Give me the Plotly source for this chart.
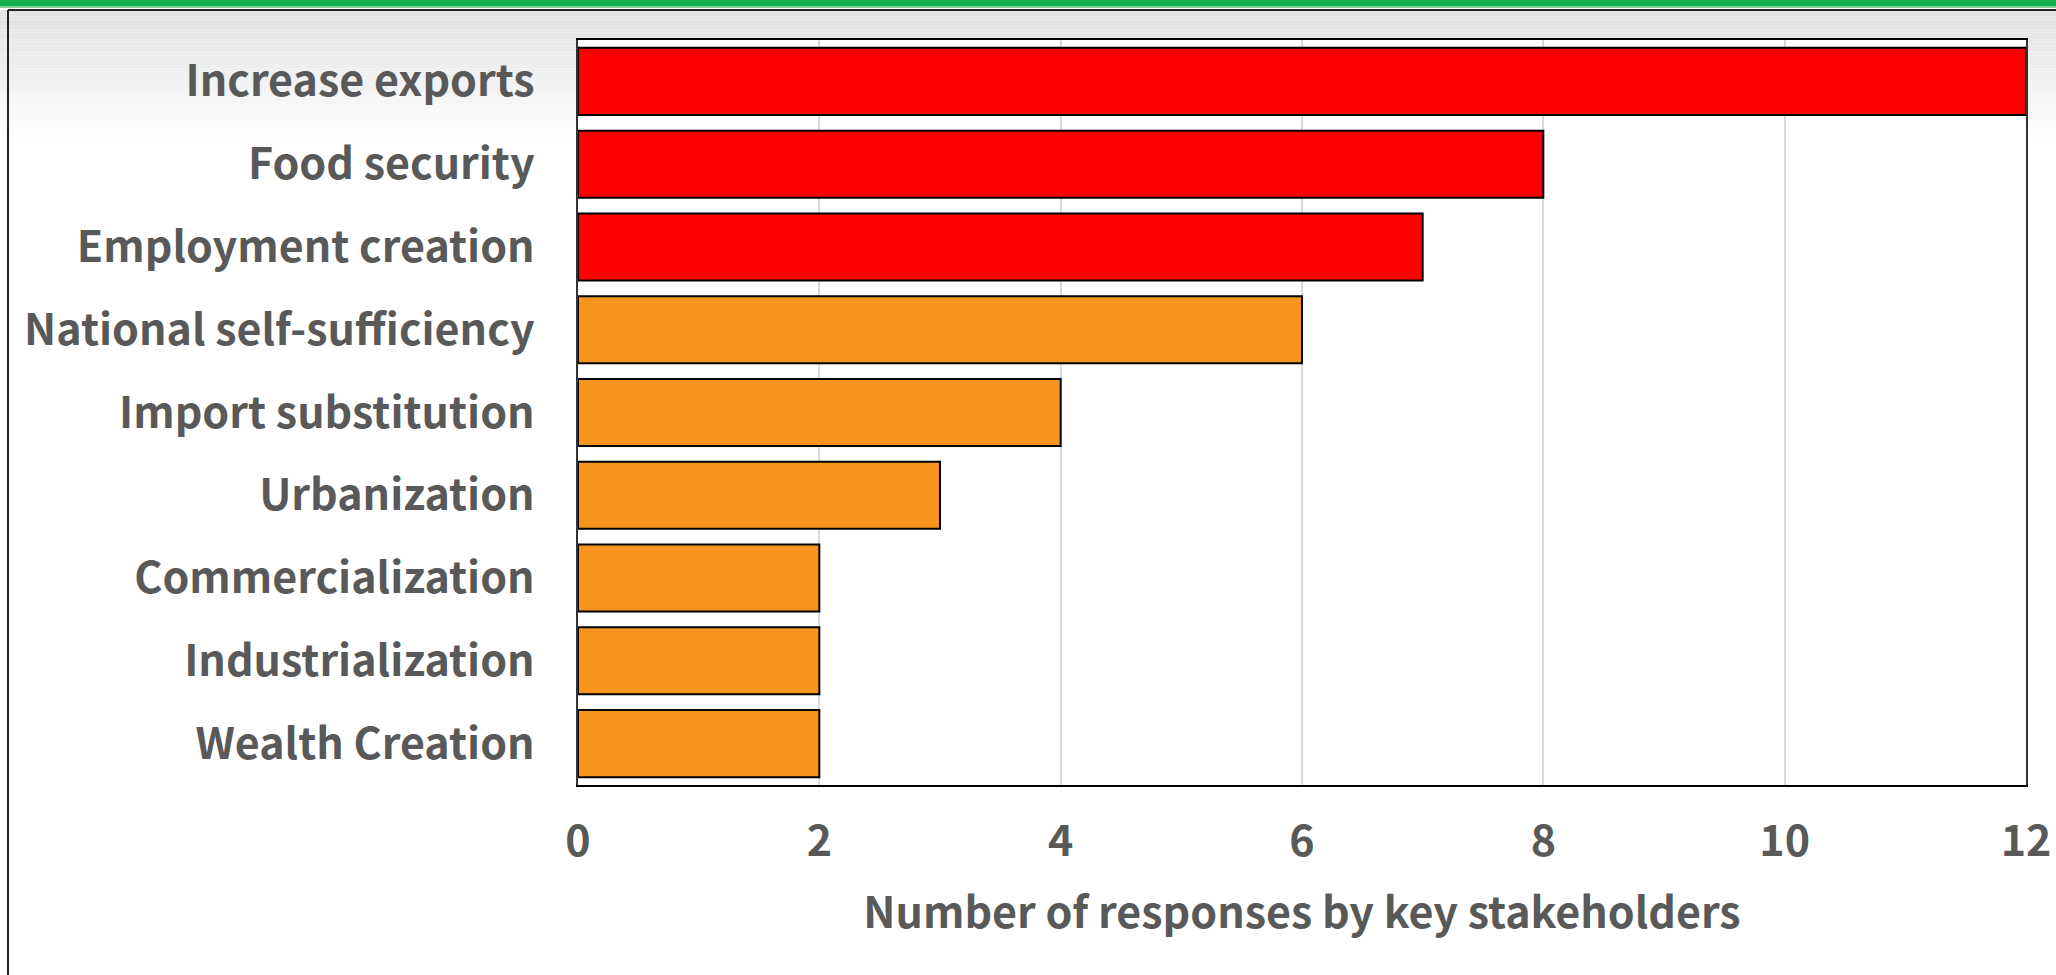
import plotly.graph_objects as go

categories = ["Increase exports", "Food security", "Employment creation",
              "National self-sufficiency", "Import substitution", "Urbanization",
              "Commercialization", "Industrialization", "Wealth Creation"]
responses = [12, 8, 7, 6, 4, 3, 2, 2, 2]
x_ticks = [0, 2, 4, 6, 8, 10, 12]
x_title = "Number of responses by key stakeholders"

RED = "#ff0000"
ORANGE = "#f7941e"
TXT = "#595959"
FONT = "Noto Sans CJK JP, Noto Sans, sans-serif"

colors = [RED if i < 3 else ORANGE for i in range(len(categories))]

W, H = 2056, 975
L, R, T, B = 578, 30, 40, 190
PW, PH = W - L - R, H - T - B

def px(x):
    return (x - L) / PW

def py(y):
    return (H - B - y) / PH

fig = go.Figure(go.Bar(
    x=responses, y=categories, orientation="h",
    marker=dict(color=colors, line=dict(color="black", width=2)),
    hoverinfo="x+y",
))

shapes = []
# gradient at top of slide
n = 40
y0, y1 = 10, 140
for i in range(n):
    ya = y0 + (y1 - y0) * i / n
    yb = y0 + (y1 - y0) * (i + 1) / n
    t = i / (n - 1)
    v = int(226 + (255 - 226) * t)
    shapes.append(dict(type="rect", xref="paper", yref="paper", layer="below",
                       x0=px(0), x1=px(W), y0=py(yb), y1=py(ya),
                       fillcolor=f"rgb({v},{v},{v})", line=dict(width=0)))
# white plot area
shapes.append(dict(type="rect", xref="paper", yref="paper", layer="below",
                   x0=0, x1=1, y0=0, y1=1, fillcolor="white", line=dict(width=0)))
# green top bar
shapes.append(dict(type="rect", xref="paper", yref="paper", layer="above",
                   x0=px(0), x1=px(W), y0=py(6), y1=py(0),
                   fillcolor="#14ae4e", line=dict(width=0)))
shapes.append(dict(type="rect", xref="paper", yref="paper", layer="above",
                   x0=px(0), x1=px(W), y0=py(8), y1=py(6),
                   fillcolor="#7fcf95", line=dict(width=0)))
# slide border lines
shapes.append(dict(type="line", xref="paper", yref="paper", layer="above",
                   x0=px(8), x1=px(W), y0=py(10), y1=py(10),
                   line=dict(color="#222222", width=2)))
shapes.append(dict(type="line", xref="paper", yref="paper", layer="above",
                   x0=px(8), x1=px(8), y0=py(10), y1=py(H),
                   line=dict(color="#222222", width=2)))

fig.update_layout(
    width=W, height=H,
    margin=dict(l=L, r=R, t=T, b=B),
    paper_bgcolor="white", plot_bgcolor="white",
    bargap=0.19,
    showlegend=False,
    shapes=shapes,
    font=dict(family=FONT, color=TXT),
)
fig.update_xaxes(
    range=[0, 12], tickvals=x_ticks, ticktext=[str(v) for v in x_ticks],
    automargin=False,
    showgrid=True, gridcolor="#d9d9d9", gridwidth=1.5,
    showline=True, linecolor="black", linewidth=2, mirror=True,
    zeroline=False,
    ticks="outside", ticklen=17, tickcolor="rgba(0,0,0,0)",
    tickfont=dict(family=FONT, size=43, color=TXT, weight="bold"),
    title=dict(text=x_title, standoff=31,
               font=dict(family=FONT, size=43, color=TXT, weight="bold")),
)
fig.update_yaxes(
    autorange="reversed", automargin=False,
    showline=True, linecolor="#333333", linewidth=1.5, mirror=True,
    ticks="outside", ticklen=33, tickcolor="rgba(0,0,0,0)",
    tickfont=dict(family=FONT, size=43, color=TXT, weight="bold"),
)

fig.write_html("out.html", config={"displayModeBar": False},
               post_script="document.body.style.margin='0px';document.body.style.overflow='hidden';")
